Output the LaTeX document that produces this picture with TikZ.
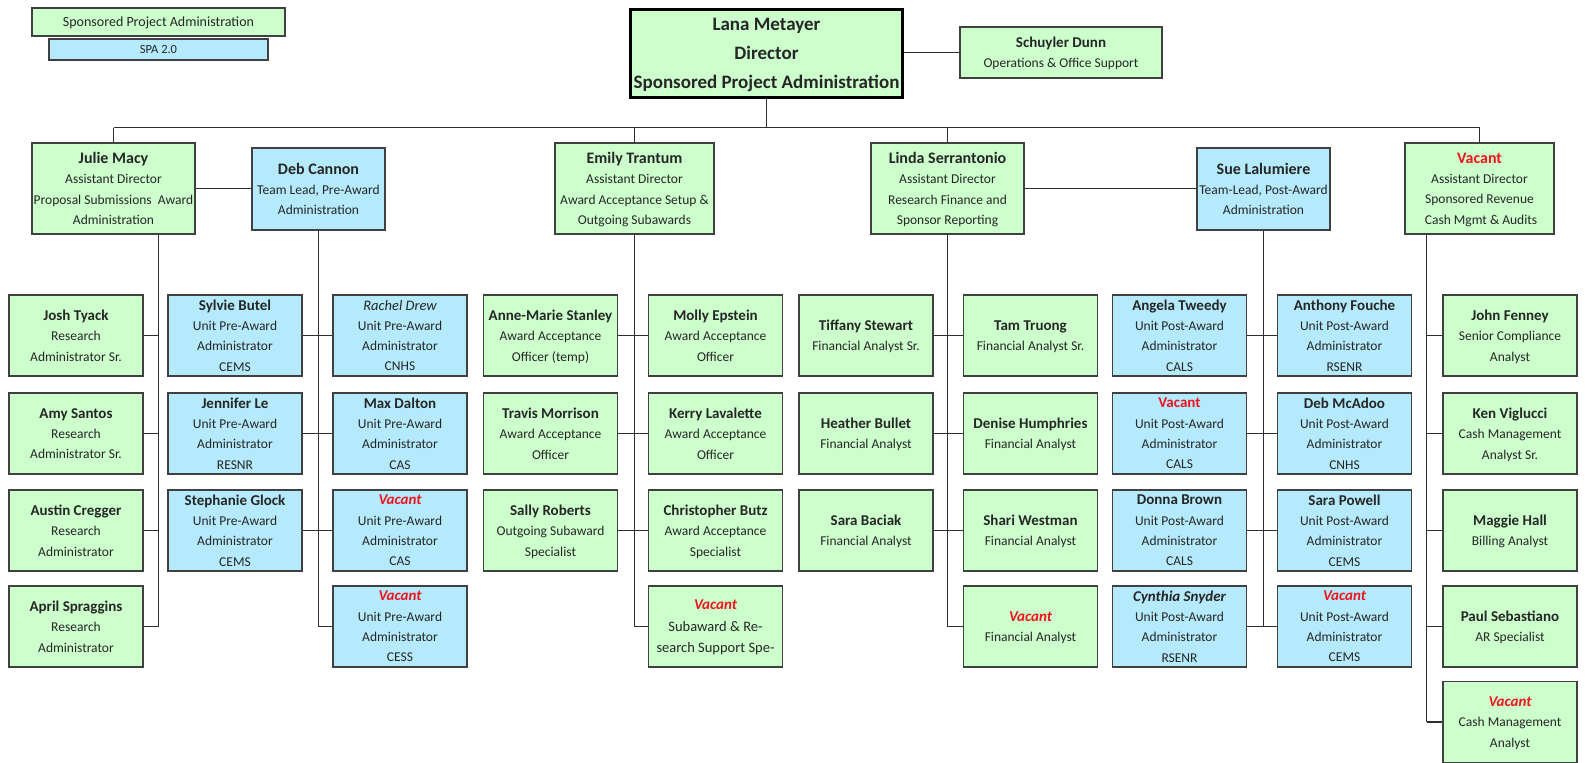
\documentclass[tikz,border=0pt]{standalone}
\usepackage{fontspec}
\setmainfont{Carlito}
\definecolor{pgreen}{HTML}{CCFFCC}
\definecolor{pblue}{HTML}{B4EAFB}
\definecolor{edgec}{HTML}{404040}
\definecolor{wire}{HTML}{2E2E2E}
\definecolor{ink}{HTML}{262626}
\definecolor{vacred}{HTML}{F0141E}
\newcommand\nm[1]{{\fontsize{15}{20.3}\selectfont\bfseries #1}}
\newcommand\mgrname[1]{{\fontsize{16}{20.3}\selectfont\bfseries #1}}
\newcommand\vac{{\fontsize{15}{20.3}\selectfont\bfseries\itshape\color{vacred}Vacant}}
\newcommand\vacup{{\fontsize{15}{20.3}\selectfont\bfseries\color{vacred}Vacant}}
\begin{document}
\begin{tikzpicture}[x=1pt,y=-1pt,
  box/.style={draw=edgec, line width=1.1pt, minimum width=134pt, minimum height=81pt,
    inner sep=0pt, align=center, text=ink, text depth=0pt,
    font=\fontsize{13.5}{20.3}\selectfont},
  gbox/.style={box, fill=pgreen},
  bbox/.style={box, fill=pblue},
  link/.style={draw=wire, line width=1.2pt}]
\useasboundingbox (0,0) rectangle (1585,763);

% legend
\node[gbox, minimum width=253pt, minimum height=28pt, font=\fontsize{14}{16}\selectfont] (leg1) at (158.5,22) {Sponsored Project Administration};
\node[bbox, minimum width=219pt, minimum height=21pt, font=\fontsize{12.5}{14}\selectfont] (leg2) at (158.5,49.5) {SPA 2.0};

% director and support
\node[gbox, draw=black, line width=3pt, minimum width=272pt, minimum height=88pt,
  font=\fontsize{19}{29}\selectfont\bfseries] (lana) at (766.5,53)
  {Lana Metayer\\Director\\Sponsored Project Administration};
\node[gbox, minimum width=202pt, minimum height=51pt] (schuyler) at (1061,52.5)
  {\nm{Schuyler Dunn}\\Operations \& Office Support};

% managers
\node[gbox, minimum width=163pt, minimum height=91pt] (julie) at (113.5,188.5)
  {\mgrname{Julie Macy}\\Assistant Director\\Proposal Submissions\ \ Award\\Administration};
\node[bbox, minimum width=133pt, minimum height=82pt] (deb) at (318.5,189)
  {\mgrname{Deb Cannon}\\Team Lead, Pre-Award\\Administration};
\node[gbox, minimum width=159pt, minimum height=91pt] (emily) at (634.5,188.5)
  {\mgrname{Emily Trantum}\\Assistant Director\\Award Acceptance Setup \&\\Outgoing Subawards};
\node[gbox, minimum width=153pt, minimum height=91pt] (linda) at (947.5,188.5)
  {\mgrname{Linda Serrantonio}\\Assistant Director\\Research Finance and\\Sponsor Reporting};
\node[bbox, minimum width=133pt, minimum height=82pt] (sue) at (1263.5,189)
  {\mgrname{Sue Lalumiere}\\Team-Lead, Post-Award\\Administration};
\node[gbox, minimum width=149pt, minimum height=91pt] (vacad) at (1479.5,188.5)
  {{\fontsize{16}{20.3}\selectfont\bfseries\color{vacred}Vacant}\\Assistant Director\\Sponsored Revenue\\\ Cash Mgmt \& Audits};

% column 1
\node[gbox] (c1r1) at (76,335.5) {\nm{Josh Tyack}\\Research\\Administrator Sr.};
\node[gbox] (c1r2) at (76,433.5) {\nm{Amy Santos}\\Research\\Administrator Sr.};
\node[gbox] (c1r3) at (76,530.5) {\nm{Austin Cregger}\\Research\\Administrator};
\node[gbox] (c1r4) at (76,626.5) {\nm{April Spraggins}\\Research\\Administrator};
% column 2
\node[bbox] (c2r1) at (235,335.5) {\nm{Sylvie Butel}\\Unit Pre-Award\\Administrator\\CEMS};
\node[bbox] (c2r2) at (235,433.5) {\nm{Jennifer Le}\\Unit Pre-Award\\Administrator\\RESNR};
\node[bbox] (c2r3) at (235,530.5) {\nm{Stephanie Glock}\\Unit Pre-Award\\Administrator\\CEMS};
% column 3
\node[bbox] (c3r1) at (400,335.5) {{\fontsize{14.5}{20.3}\selectfont\itshape Rachel Drew}\\Unit Pre-Award\\Administrator\\CNHS};
\node[bbox] (c3r2) at (400,433.5) {\nm{Max Dalton}\\Unit Pre-Award\\Administrator\\CAS};
\node[bbox] (c3r3) at (400,530.5) {\vac\\Unit Pre-Award\\Administrator\\CAS};
\node[bbox] (c3r4) at (400,626.5) {\vac\\Unit Pre-Award\\Administrator\\CESS};
% column 4
\node[gbox] (c4r1) at (550.5,335.5) {\nm{Anne-Marie Stanley}\\Award Acceptance\\Officer (temp)};
\node[gbox] (c4r2) at (550.5,433.5) {\nm{Travis Morrison}\\Award Acceptance\\Officer};
\node[gbox] (c4r3) at (550.5,530.5) {\nm{Sally Roberts}\\Outgoing Subaward\\Specialist};
% column 5
\node[gbox] (c5r1) at (715.5,335.5) {\nm{Molly Epstein}\\Award Acceptance\\Officer};
\node[gbox] (c5r2) at (715.5,433.5) {\nm{Kerry Lavalette}\\Award Acceptance\\Officer};
\node[gbox] (c5r3) at (715.5,530.5) {\nm{Christopher Butz}\\Award Acceptance\\Specialist};
\node[gbox, font=\fontsize{14.5}{21.5}\selectfont] (c5r4) at (715.5,626.5) {\vac\\Subaward \& Re-\\search Support Spe-};
% column 6
\node[gbox] (c6r1) at (866,335.5) {\nm{Tiffany Stewart}\\Financial Analyst Sr.};
\node[gbox] (c6r2) at (866,433.5) {\nm{Heather Bullet}\\Financial Analyst};
\node[gbox] (c6r3) at (866,530.5) {\nm{Sara Baciak}\\Financial Analyst};
% column 7
\node[gbox] (c7r1) at (1030.5,335.5) {\nm{Tam Truong}\\Financial Analyst Sr.};
\node[gbox] (c7r2) at (1030.5,433.5) {\nm{Denise Humphries}\\Financial Analyst};
\node[gbox] (c7r3) at (1030.5,530.5) {\nm{Shari Westman}\\Financial Analyst};
\node[gbox] (c7r4) at (1030.5,626.5) {\vac\\Financial Analyst};
% column 8
\node[bbox] (c8r1) at (1179.5,335.5) {\nm{Angela Tweedy}\\Unit Post-Award\\Administrator\\CALS};
\node[bbox] (c8r2) at (1179.5,433.5) {\vacup\\Unit Post-Award\\Administrator\\CALS};
\node[bbox] (c8r3) at (1179.5,530.5) {\nm{Donna Brown}\\Unit Post-Award\\Administrator\\CALS};
\node[bbox] (c8r4) at (1179.5,626.5) {{\fontsize{15}{20.3}\selectfont\bfseries\itshape Cynthia Snyder}\\Unit Post-Award\\Administrator\\RSENR};
% column 9
\node[bbox] (c9r1) at (1344.5,335.5) {\nm{Anthony Fouche}\\Unit Post-Award\\Administrator\\RSENR};
\node[bbox] (c9r2) at (1344.5,433.5) {\nm{Deb McAdoo}\\Unit Post-Award\\Administrator\\CNHS};
\node[bbox] (c9r3) at (1344.5,530.5) {\nm{Sara Powell}\\Unit Post-Award\\Administrator\\CEMS};
\node[bbox] (c9r4) at (1344.5,626.5) {\vac\\Unit Post-Award\\Administrator\\CEMS};
% column 10
\node[gbox] (c10r1) at (1510,335.5) {\nm{John Fenney}\\Senior Compliance\\Analyst};
\node[gbox] (c10r2) at (1510,433.5) {\nm{Ken Viglucci}\\Cash Management\\Analyst Sr.};
\node[gbox] (c10r3) at (1510,530.5) {\nm{Maggie Hall}\\Billing Analyst};
\node[gbox] (c10r4) at (1510,626.5) {\nm{Paul Sebastiano}\\AR Specialist};
\node[gbox] (c10r5) at (1510,722) {\vac\\Cash Management\\Analyst};

% trunk lines
\coordinate (bus) at (0,127.5);
\coordinate (jx) at (158.5,0);
\coordinate (vx) at (1426.5,0);

\draw[link] (lana.east |- schuyler.west) -- (schuyler.west);
\draw[link] (lana.south) -- (lana.south |- bus);
\draw[link] (julie.north |- bus) -- (vacad.north |- bus);
\foreach \m in {julie,emily,linda,vacad}
  \draw[link] (\m.north) -- (\m.north |- bus);
\draw[link] (julie.east) -- (julie.east -| deb.west);
\draw[link] (linda.east) -- (linda.east -| sue.west);

% proposal team
\draw[link] (julie.south -| jx) -- (jx |- c1r4.east);
\foreach \r in {1,2,3,4}
  \draw[link] (c1r\r.east) -- (c1r\r.east -| jx);
\draw[link] (deb.south) -- (deb.south |- c3r4.west) -- (c3r4.west);
\foreach \r in {1,2,3}
  \draw[link] (c2r\r.east) -- (c3r\r.west);

% award acceptance team
\draw[link] (emily.south) -- (emily.south |- c5r4.west) -- (c5r4.west);
\foreach \r in {1,2,3}
  \draw[link] (c4r\r.east) -- (c5r\r.west);

% finance team
\draw[link] (linda.south) -- (linda.south |- c7r4.west) -- (c7r4.west);
\foreach \r in {1,2,3}
  \draw[link] (c6r\r.east) -- (c7r\r.west);

% post-award team
\draw[link] (sue.south) -- (sue.south |- c9r4.west);
\foreach \r in {1,2,3,4}
  \draw[link] (c8r\r.east) -- (c9r\r.west);

% revenue team
\draw[link] (vacad.south -| vx) -- (vx |- c10r5.west);
\foreach \r in {1,2,3,4,5}
  \draw[link] (c10r\r.west) -- (c10r\r.west -| vx);
\end{tikzpicture}
\end{document}
